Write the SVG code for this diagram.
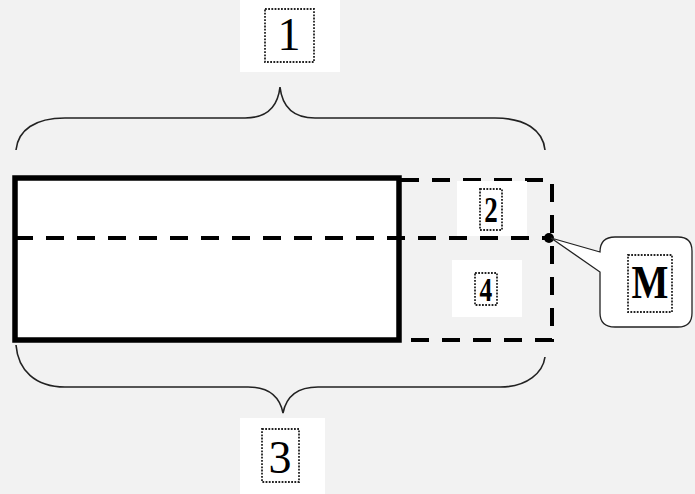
<svg xmlns="http://www.w3.org/2000/svg" width="695" height="494" viewBox="0 0 695 494">
<style>
.brace{fill:none;stroke:#222;stroke-width:1.6}
.solid{fill:#fff;stroke:#000;stroke-width:5.5}
.dash{fill:none;stroke:#000;stroke-width:4;stroke-dasharray:18,13}
.dot{fill:none;stroke:#222;stroke-width:1.8;stroke-dasharray:1.8,1.4}
.pad{fill:#fff;stroke:none}
.lbl{font-family:"Liberation Serif",serif;fill:#000;text-anchor:middle}
</style>
<rect width="695" height="494" fill="#f2f2f2"/>
<g id="connectors">
<path class="brace" d="M16,150 C18,130 35,118 65,118 L245,118 C268,118 278,105 280,87 C282,105 292,118 315,118 L495,118 C525,118 543,130 545,150"/>
<path class="brace" d="M16,345 C18,370 35,387 65,387 L248,387 C270,387 280,398 283,413 C286,398 296,387 318,387 L500,387 C528,387 543,372 545,357"/>
</g>
<g id="main-rect">
<rect class="solid" x="15" y="178" width="384" height="162"/>
</g>
<g id="dashed-region">
<path class="dash" d="M401,180 L552,180 L552,340 L401,340"/>
<path class="dash" d="M15,238 L552,238"/>
<circle cx="549" cy="238" r="5" fill="#000"/>
</g>
<g id="label-1">
<rect class="pad" x="240" y="0" width="100" height="72"/>
<rect class="dot" x="265" y="9" width="49" height="53"/>
<text class="lbl" x="289" y="50" font-size="46">1</text>
</g>
<g id="label-3">
<rect class="pad" x="240" y="418" width="85" height="76"/>
<rect class="dot" x="262" y="429" width="37" height="53"/>
<text class="lbl" x="280" y="473" font-size="46">3</text>
</g>
<g id="label-2">
<rect class="pad" x="457" y="181" width="70" height="55"/>
<rect class="dot" x="480" y="189" width="22" height="41"/>
<text class="lbl" x="491" y="222" font-size="36" font-weight="bold" transform="translate(491,0) scale(0.75,1) translate(-491,0)">2</text>
</g>
<g id="label-4">
<rect class="pad" x="452" y="260" width="70" height="57"/>
<rect class="dot" x="475" y="273" width="22" height="32"/>
<text class="lbl" x="486" y="301" font-size="34" font-weight="bold" transform="translate(486,0) scale(0.75,1) translate(-486,0)">4</text>
</g>
<g id="callout-M">
<path d="M551,238 L600,252 Q600,237 615,237 L678,237 Q692,237 692,251 L692,313 Q692,327 678,327 L615,327 Q600,327 600,313 L600,272 Z" fill="#fff" stroke="#222" stroke-width="1.3"/>
<rect class="dot" x="628" y="255" width="44" height="57"/>
<text class="lbl" x="650" y="298" font-size="46" font-weight="bold" transform="translate(650,0) scale(0.85,1) translate(-650,0)">M</text>
</g>
</svg>
